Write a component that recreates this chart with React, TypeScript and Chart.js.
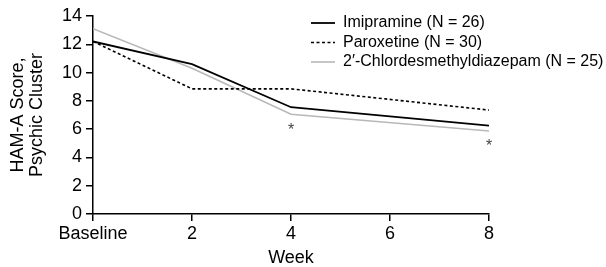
import React, { useEffect, useRef } from 'react';
import { Chart, registerables } from 'chart.js';

Chart.register(...registerables);

// ---- data ----
const weeks = [0, 2, 4, 8];
const imipramine = [12.2, 10.6, 7.55, 6.25];
const paroxetine = [12.2, 8.85, 8.85, 7.35];
const chlordesmethyldiazepam = [13.1, 10.3, 7.05, 5.87];
const seriesLabels = [
  'Imipramine (N = 26)',
  'Paroxetine (N = 30)',
  '2\u2032-Chlordesmethyldiazepam (N = 25)',
];
const xTickValues = [0, 2, 4, 6, 8];
const xTickLabels = ['Baseline', '2', '4', '6', '8'];
const yTickValues = [0, 2, 4, 6, 8, 10, 12, 14];
const asteriskWeeks = [4, 8];
const asteriskValues = [6.15, 5.05];

const FONT = '"Liberation Sans", Arial, Helvetica, sans-serif';

const asteriskPlugin = {
  id: 'asterisks',
  afterDatasetsDraw(chart: any) {
    const { ctx, scales } = chart;
    ctx.save();
    ctx.fillStyle = '#444';
    ctx.font = `16px ${FONT}`;
    ctx.textAlign = 'center';
    ctx.textBaseline = 'alphabetic';
    asteriskWeeks.forEach((w, i) => {
      const px = scales.x.getPixelForValue(w);
      const py = scales.y.getPixelForValue(asteriskValues[i]);
      ctx.fillText('*', px, py + 8);
    });
    ctx.restore();
  },
};

const legendPlugin = {
  id: 'insideLegend',
  afterDraw(chart: any, _args: any, opts: any) {
    const { ctx } = chart;
    ctx.save();
    ctx.font = `16px ${FONT}`;
    ctx.textBaseline = 'middle';
    ctx.textAlign = 'left';
    chart.data.datasets.forEach((ds: any, i: number) => {
      const y = opts.y0 + i * opts.rowGap;
      ctx.beginPath();
      ctx.strokeStyle = ds.borderColor;
      ctx.lineWidth = ds.borderWidth;
      ctx.setLineDash(ds.borderDash || []);
      ctx.moveTo(opts.lineX0, y);
      ctx.lineTo(opts.lineX1, y);
      ctx.stroke();
      ctx.setLineDash([]);
      ctx.fillStyle = '#000';
      ctx.fillText(ds.label, opts.textX, y);
    });
    ctx.restore();
  },
};

export default function App() {
  const ref = useRef<HTMLCanvasElement | null>(null);

  useEffect(() => {
    if (!ref.current) return;
    const toPts = (vals: number[]) => weeks.map((w, i) => ({ x: w, y: vals[i] }));
    const chart = new Chart(ref.current, {
      type: 'line',
      data: {
        datasets: [
          {
            label: seriesLabels[0],
            data: toPts(imipramine),
            borderColor: '#000000',
            borderWidth: 1.8,
            pointRadius: 0,
            tension: 0,
          },
          {
            label: seriesLabels[1],
            data: toPts(paroxetine),
            borderColor: '#000000',
            borderWidth: 1.6,
            borderDash: [3, 2.5],
            pointRadius: 0,
            tension: 0,
          },
          {
            label: seriesLabels[2],
            data: toPts(chlordesmethyldiazepam),
            borderColor: '#b8b8b8',
            borderWidth: 1.6,
            pointRadius: 0,
            tension: 0,
          },
        ],
      },
      options: {
        responsive: false,
        animation: false,
        events: [],
        layout: { padding: { top: 16, right: 117, left: 0, bottom: 0 } },
        plugins: {
          legend: { display: false },
          tooltip: { enabled: false },
          insideLegend: { y0: 23, rowGap: 19.5, lineX0: 311, lineX1: 335, textX: 343 },
        } as any,
        scales: {
          x: {
            type: 'linear',
            min: 0,
            max: 8,
            afterBuildTicks: (s: any) => {
              s.ticks = xTickValues.map((v) => ({ value: v }));
            },
            afterFit: (s: any) => {
              s.height = 53;
            },
            ticks: {
              color: '#000',
              font: { family: FONT, size: 18 },
              padding: 2,
              maxRotation: 0,
              autoSkip: false,
              callback: (v: any) => {
                const idx = xTickValues.indexOf(Number(v));
                return idx >= 0 ? xTickLabels[idx] : '';
              },
            },
            grid: { drawOnChartArea: false, drawTicks: true, tickLength: 7, color: '#000', lineWidth: 1.5 },
            border: { display: true, color: '#000', width: 1.5 },
            title: {
              display: true,
              text: 'Week',
              color: '#000',
              font: { family: FONT, size: 18, lineHeight: 1.0 },
              padding: { top: 0, bottom: 0 },
            },
          },
          y: {
            type: 'linear',
            min: 0,
            max: 14,
            afterBuildTicks: (s: any) => {
              s.ticks = yTickValues.map((v) => ({ value: v }));
            },
            afterFit: (s: any) => {
              s.width = 93;
            },
            ticks: {
              color: '#000',
              font: { family: FONT, size: 18 },
              padding: 4,
              autoSkip: false,
            },
            grid: { drawOnChartArea: false, drawTicks: true, tickLength: 7, color: '#000', lineWidth: 1.5 },
            border: { display: true, color: '#000', width: 1.5 },
            title: {
              display: true,
              text: ['HAM-A Score,', 'Psychic Cluster'],
              color: '#000',
              font: { family: FONT, size: 18, lineHeight: 1.05 },
              padding: { top: 9, bottom: 0 },
            },
          },
        },
      },
      plugins: [asteriskPlugin, legendPlugin],
    });
    return () => chart.destroy();
  }, []);

  return (
    <div style={{ position: 'fixed', left: 0, top: 0, width: 606, height: 267, background: '#fff' }}>
      <canvas ref={ref} width={606} height={267} style={{ display: 'block', width: 606, height: 267 }} />
    </div>
  );
}
